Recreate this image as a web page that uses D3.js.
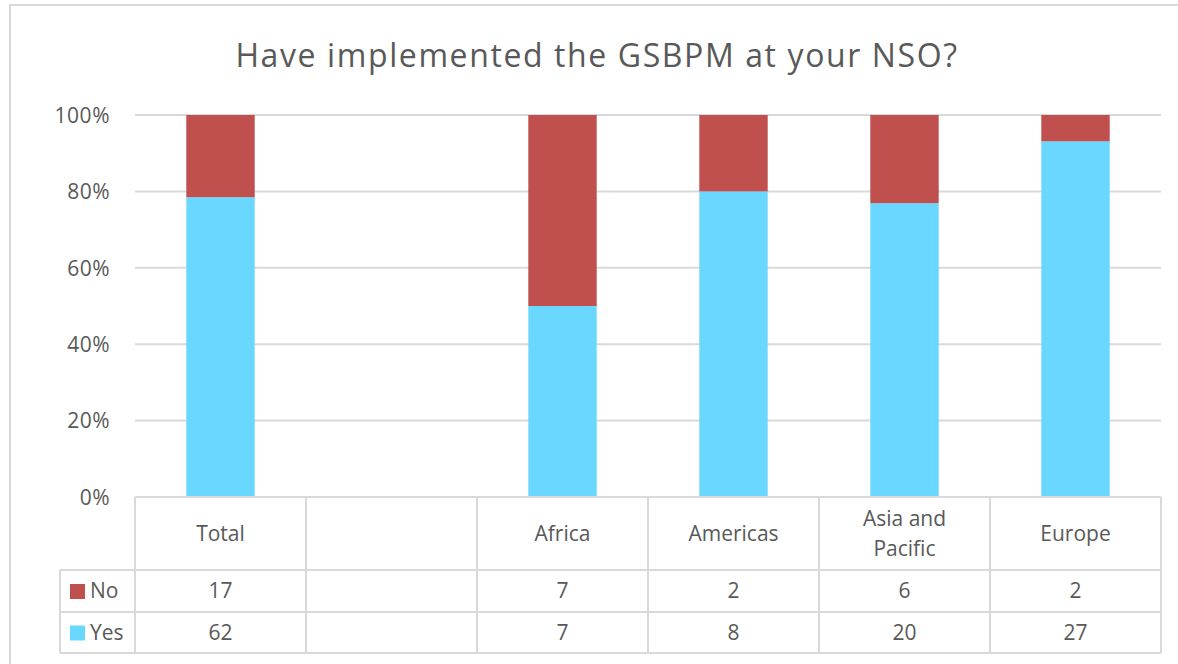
<!DOCTYPE html>
<html>
<head>
<meta charset="utf-8">
<style>
  body { margin: 0; background: #fff; }
  text { font-family: "Open Sans", "Noto Sans", sans-serif; fill: #595959; }
</style>
</head>
<body>
<div id="chart"></div>
<script src="https://d3js.org/d3.v7.min.js"></script>
<script>
// data
var categories = ["Total", "", "Africa", "Americas", "Asia and Pacific", "Europe"];
var noValues  = [17, null, 7, 2, 6, 2];
var yesValues = [62, null, 7, 8, 20, 27];
var seriesNames = ["No", "Yes"];
var yTicks = [0, 0.2, 0.4, 0.6, 0.8, 1];

var width = 1178, height = 664;
var plotLeft = 135, plotRight = 1161, plotTop = 115, plotBottom = 497;
var rowNo = [570, 612], rowYes = [612, 653], legendX = 60;

var red = "#C0504D", cyan = "#69D7FF", grid = "#D9D9D9";

var svg = d3.select("#chart").append("svg")
    .attr("width", width).attr("height", height);

// outer frame
svg.append("rect").attr("x", 10).attr("y", 5)
    .attr("width", width + 20).attr("height", height + 20)
    .attr("fill", "none").attr("stroke", grid).attr("stroke-width", 2);

svg.append("text").attr("x", 597).attr("y", 67)
    .attr("text-anchor", "middle").style("font-size", "32px")
    .style("letter-spacing", "1.6px")
    .text("Have implemented the GSBPM at your NSO?");

var x = d3.scaleBand().domain(d3.range(categories.length))
    .range([plotLeft, plotRight]).paddingInner(0).paddingOuter(0);
var y = d3.scaleLinear().domain([0, 1]).range([plotBottom, plotTop]);

// gridlines
svg.append("g").selectAll("line").data(yTicks).enter().append("line")
    .attr("x1", plotLeft).attr("x2", plotRight)
    .attr("y1", function(d) { return y(d); }).attr("y2", function(d) { return y(d); })
    .attr("stroke", grid).attr("stroke-width", 2);

// y axis labels
var yAxis = svg.append("g").attr("transform", "translate(" + (plotLeft - 25) + ",0)")
    .call(d3.axisLeft(y).tickValues(yTicks).tickFormat(d3.format(".0%")).tickSize(0));
yAxis.select(".domain").remove();
yAxis.selectAll("text").attr("x", 0).attr("dy", "0.35em")
    .style("font-size", "21px").style("letter-spacing", "0.5px").attr("fill", "#595959");

// stacked 100% bars
var rows = categories.map(function(c, i) {
  var t = (noValues[i] || 0) + (yesValues[i] || 0);
  return { i: i, Yes: t ? yesValues[i] / t : 0, No: t ? noValues[i] / t : 0 };
});
var stack = d3.stack().keys(["Yes", "No"])(rows);
var colors = { Yes: cyan, No: red };
var barW = x.bandwidth() / 2.5;

svg.append("g").selectAll("g").data(stack).enter().append("g")
    .attr("fill", function(s) { return colors[s.key]; })
  .selectAll("rect").data(function(s) { return s; }).enter().append("rect")
    .attr("x", function(d) { return x(d.data.i) + (x.bandwidth() - barW) / 2; })
    .attr("width", barW)
    .attr("y", function(d) { return y(d[1]); })
    .attr("height", function(d) { return y(d[0]) - y(d[1]); });

// data table
var tbl = svg.append("g").attr("stroke", grid).attr("stroke-width", 2).attr("fill", "none");
tbl.append("line").attr("x1", plotLeft).attr("x2", plotRight).attr("y1", plotBottom).attr("y2", plotBottom);
[rowNo[0], rowNo[1], rowYes[1]].forEach(function(yy) {
  tbl.append("line").attr("x1", legendX).attr("x2", plotRight).attr("y1", yy).attr("y2", yy);
});
tbl.append("line").attr("x1", legendX).attr("x2", legendX).attr("y1", rowNo[0]).attr("y2", rowYes[1]);
d3.range(categories.length + 1).forEach(function(i) {
  var xx = i < categories.length ? x(i) : plotRight;
  tbl.append("line").attr("x1", xx).attr("x2", xx).attr("y1", plotBottom).attr("y2", rowYes[1]);
});

// header labels
var hdr = svg.append("g");
categories.forEach(function(c, i) {
  var cx = x(i) + x.bandwidth() / 2;
  var lines = c === "Asia and Pacific" ? ["Asia and", "Pacific"] : [c];
  var cy = (plotBottom + rowNo[0]) / 2;
  lines.forEach(function(l, k) {
    hdr.append("text").attr("x", cx)
      .attr("y", cy + (k - (lines.length - 1) / 2) * 30)
      .attr("dy", "0.35em").attr("text-anchor", "middle")
      .style("font-size", "21px").text(l);
  });
});

// value rows
[[noValues, rowNo], [yesValues, rowYes]].forEach(function(r) {
  r[0].forEach(function(v, i) {
    if (v == null) return;
    svg.append("text").attr("x", x(i) + x.bandwidth() / 2)
      .attr("y", (r[1][0] + r[1][1]) / 2).attr("dy", "0.35em")
      .attr("text-anchor", "middle").style("font-size", "21px").text(v);
  });
});

// legend keys in table
[[seriesNames[0], red, rowNo], [seriesNames[1], cyan, rowYes]].forEach(function(l) {
  var cy = (l[2][0] + l[2][1]) / 2;
  svg.append("rect").attr("x", 70).attr("y", cy - 7).attr("width", 15).attr("height", 15)
    .attr("fill", l[1]);
  svg.append("text").attr("x", 90).attr("y", cy).attr("dy", "0.35em")
    .style("font-size", "21px").text(l[0]);
});
</script>
</body>
</html>
